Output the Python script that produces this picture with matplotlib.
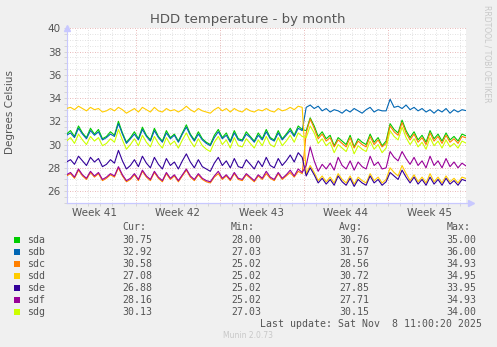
import matplotlib
matplotlib.use("Agg")
import matplotlib.pyplot as plt
import matplotlib.dates as mdates
from matplotlib.patches import Rectangle
import pandas as pd

W, H = 497, 347

# 8-hourly averages per drive, oldest first
sda = [30.9, 31.2, 30.7, 31.6, 31.0, 30.6, 31.4, 30.9, 31.3, 30.5,
       30.7, 31.1, 30.8, 32.0, 31.0, 30.2, 30.6, 31.1, 30.5, 31.5,
       30.8, 30.4, 31.4, 30.7, 30.3, 31.2, 30.6, 30.9, 30.3, 31.0,
       31.7, 30.9, 30.4, 31.1, 30.5, 30.2, 30.0, 30.8, 31.3, 30.6,
       31.0, 30.3, 31.2, 30.5, 30.4, 31.1, 30.7, 30.3, 31.0, 30.5,
       31.3, 30.6, 30.4, 31.2, 30.5, 30.9, 31.4, 30.8, 31.6, 31.3,
       31.2, 32.3, 31.6, 30.7, 31.1, 30.5, 30.8, 29.9, 30.6, 30.3,
       30.0, 30.8, 29.8, 30.5, 30.2, 30.0, 30.9, 30.2, 30.6, 29.9,
       30.3, 31.8, 31.3, 31.0, 32.1, 31.2, 30.6, 31.1, 30.4, 30.8,
       30.2, 31.2, 30.5, 30.9, 30.3, 31.0, 30.4, 30.7, 30.3, 30.9, 30.75]
sdb = [30.8, 31.0, 30.6, 31.4, 30.9, 30.5, 31.2, 30.8, 31.1, 30.4,
       30.6, 30.9, 30.7, 31.8, 30.9, 30.1, 30.5, 30.9, 30.4, 31.3,
       30.7, 30.3, 31.2, 30.6, 30.2, 31.0, 30.5, 30.8, 30.2, 30.9,
       31.5, 30.8, 30.3, 30.9, 30.4, 30.1, 29.9, 30.6, 31.1, 30.5,
       30.8, 30.2, 31.0, 30.4, 30.3, 30.9, 30.6, 30.2, 30.8, 30.4,
       31.1, 30.5, 30.3, 31.0, 30.4, 30.8, 31.2, 30.7, 31.4, 31.2,
       33.2, 33.4, 33.1, 33.3, 32.9, 33.1, 32.8, 33.0, 32.9, 32.7,
       33.0, 32.8, 33.1, 32.9, 32.7, 33.0, 33.2, 32.8, 33.0, 32.9,
       32.9, 33.9, 33.2, 33.3, 33.1, 33.4, 33.0, 33.2, 32.9, 33.1,
       32.8, 33.0, 32.7, 33.0, 32.8, 33.1, 32.7, 33.0, 32.8, 33.0, 32.92]
sdc = [27.3, 27.5, 27.1, 27.8, 27.3, 27.0, 27.6, 27.2, 27.5, 26.9,
       27.1, 27.4, 27.2, 28.0, 27.3, 26.8, 27.0, 27.4, 26.9, 27.7,
       27.2, 26.9, 27.6, 27.1, 26.8, 27.5, 27.0, 27.3, 26.8, 27.3,
       27.8, 27.2, 26.9, 27.4, 27.0, 26.8, 26.7, 27.2, 27.5, 27.0,
       27.3, 26.9, 27.5, 27.0, 26.9, 27.4, 27.1, 26.8, 27.3, 27.0,
       27.5, 27.1, 26.9, 27.5, 27.0, 27.3, 27.6, 27.2, 27.7, 27.5,
       31.0, 32.2, 31.4, 30.5, 30.9, 30.3, 30.6, 29.8, 30.4, 30.1,
       29.8, 30.6, 29.7, 30.3, 30.0, 29.8, 30.7, 30.0, 30.4, 29.8,
       30.1, 31.6, 31.1, 30.8, 31.9, 31.0, 30.4, 30.9, 30.2, 30.6,
       30.0, 31.0, 30.3, 30.7, 30.1, 30.8, 30.2, 30.5, 30.1, 30.7, 30.58]
sdd = [33.1, 33.2, 33.0, 33.3, 33.1, 32.9, 33.2, 33.0, 33.1, 32.8,
       32.9, 33.1, 32.9, 33.2, 33.0, 32.7, 32.9, 33.1, 32.8, 33.2,
       33.0, 32.8, 33.2, 32.9, 32.8, 33.1, 32.9, 33.0, 32.8, 33.0,
       33.3, 33.0, 32.8, 33.1, 32.9, 32.8, 32.7, 33.0, 33.2, 32.9,
       33.1, 32.8, 33.1, 32.9, 32.8, 33.1, 32.9, 32.8, 33.0, 32.9,
       33.1, 32.9, 32.8, 33.1, 32.9, 33.0, 33.2, 33.0, 33.3, 33.2,
       27.5, 28.2, 27.6, 26.9, 27.3, 26.8, 27.2, 26.7, 27.5, 27.0,
       26.7, 27.3, 26.6, 27.2, 26.9, 26.7, 27.5, 26.9, 27.2, 26.7,
       27.0, 28.0, 27.6, 27.3, 28.2, 27.5, 26.9, 27.4, 26.8, 27.2,
       26.7, 27.5, 26.8, 27.2, 26.7, 27.3, 26.8, 27.1, 26.7, 27.2, 27.08]
sde = [28.5, 28.7, 28.3, 29.0, 28.6, 28.2, 28.9, 28.5, 28.8, 28.1,
       28.3, 28.7, 28.4, 29.5, 28.6, 27.9, 28.2, 28.7, 28.1, 29.0,
       28.4, 28.0, 28.9, 28.3, 27.9, 28.8, 28.2, 28.5, 27.9, 28.6,
       29.2, 28.5, 28.0, 28.7, 28.1, 27.9, 27.7, 28.4, 28.9, 28.2,
       28.6, 28.0, 28.8, 28.1, 28.0, 28.7, 28.3, 27.9, 28.6, 28.1,
       28.9, 28.2, 28.0, 28.8, 28.2, 28.6, 29.1, 28.5, 29.3, 28.9,
       27.3, 28.0, 27.4, 26.7, 27.1, 26.6, 27.0, 26.5, 27.3, 26.8,
       26.5, 27.1, 26.4, 27.0, 26.7, 26.5, 27.3, 26.7, 27.0, 26.5,
       26.8, 27.6, 27.3, 27.0, 27.8, 27.2, 26.7, 27.2, 26.6, 27.0,
       26.5, 27.2, 26.6, 27.0, 26.5, 27.1, 26.6, 26.9, 26.5, 27.0, 26.88]
sdf = [27.4, 27.6, 27.2, 27.9, 27.4, 27.1, 27.7, 27.3, 27.6, 27.0,
       27.2, 27.5, 27.3, 28.1, 27.4, 26.9, 27.1, 27.5, 27.0, 27.8,
       27.3, 27.0, 27.7, 27.2, 26.9, 27.6, 27.1, 27.4, 26.9, 27.4,
       27.9, 27.3, 27.0, 27.5, 27.1, 26.9, 26.8, 27.3, 27.7, 27.1,
       27.4, 27.0, 27.6, 27.1, 27.0, 27.5, 27.2, 26.9, 27.4, 27.1,
       27.7, 27.2, 27.0, 27.6, 27.1, 27.4, 27.8, 27.3, 27.9, 27.6,
       28.2, 29.8, 28.6, 27.7, 28.3, 27.9, 28.4, 27.8, 28.9, 28.2,
       27.9, 28.6, 27.8, 28.5, 28.1, 27.9, 29.0, 28.2, 28.5, 27.9,
       28.0, 29.4, 28.9, 28.6, 29.4, 28.8, 28.3, 28.9, 28.2, 28.6,
       28.0, 29.0, 28.2, 28.6, 28.0, 28.8, 28.1, 28.5, 28.0, 28.4, 28.16]
sdg = [30.3, 30.6, 30.1, 30.9, 30.4, 30.0, 30.7, 30.3, 30.6, 29.9,
       30.1, 30.5, 30.2, 31.3, 30.4, 29.6, 30.0, 30.5, 29.9, 30.8,
       30.2, 29.8, 30.7, 30.1, 29.7, 30.6, 30.0, 30.3, 29.7, 30.4,
       31.0, 30.3, 29.8, 30.5, 29.9, 29.6, 29.4, 30.2, 30.7, 30.0,
       30.4, 29.7, 30.6, 29.9, 29.8, 30.5, 30.1, 29.7, 30.4, 29.9,
       30.7, 30.0, 29.8, 30.6, 29.9, 30.3, 30.8, 30.2, 31.0, 30.7,
       30.6, 31.6, 31.0, 30.1, 30.5, 29.9, 30.2, 29.3, 30.0, 29.7,
       29.4, 30.2, 29.2, 29.9, 29.6, 29.4, 30.3, 29.6, 30.0, 29.3,
       29.7, 31.2, 30.7, 30.4, 31.5, 30.6, 30.0, 30.5, 29.8, 30.2,
       29.6, 30.6, 29.9, 30.3, 29.7, 30.4, 29.8, 30.1, 29.7, 30.3, 30.13]

names = ["sda", "sdb", "sdc", "sdd", "sde", "sdf", "sdg"]
series = [sda, sdb, sdc, sdd, sde, sdf, sdg]
colors = ["#00CC00", "#0066B3", "#FF8000", "#FFCC00", "#330099", "#990099", "#CCFF00"]
mins = ["28.00", "27.03", "25.02", "25.02", "25.02", "25.02", "27.03"]
avgs = ["30.76", "31.57", "28.56", "30.72", "27.85", "27.71", "30.15"]
maxs = ["35.00", "36.00", "34.93", "34.95", "33.95", "34.93", "34.00"]

times = pd.date_range("2025-10-07 04:48", periods=len(sda), freq="8h")
week_starts = pd.date_range("2025-10-13", "2025-11-03", freq="7D")
week_mids = pd.date_range("2025-10-09 12:00", periods=5, freq="7D")
days = pd.date_range("2025-10-08", "2025-11-09", freq="D")

BG = "#F0F0F0"
TXT = "#555555"
AXC = "#C8C8FF"

fig = plt.figure(figsize=(W / 100, H / 100), dpi=100, facecolor=BG)
left, right, top, bottom = 66.5, 466, 28.3, 202.7
ax = fig.add_axes([left / W, 1 - bottom / H, (right - left) / W, (bottom - top) / H])
ax.set_facecolor("white")

x0, x1 = mdates.date2num(times[0]), mdates.date2num(times[-1])
ax.set_xlim(x0, x1)
ax.set_ylim(25, 40)

# grid: minor grey dots, major red dots
for v in [25 + 0.5 * k for k in range(31)]:
    major = v % 2 == 0
    ax.axhline(v, color="#E0A0A0" if major else "#D8D8D8", lw=0.6,
               ls=(0, (1, 2)), zorder=1)
for d in days:
    major = d in week_starts
    ax.axvline(mdates.date2num(d), color="#E0A0A0" if major else "#D8D8D8",
               lw=0.6, ls=(0, (1, 2)), zorder=1)

for s, c in zip(series, colors):
    ax.plot(times, s, color=c, lw=0.8, zorder=3)

for sp in ["top", "right"]:
    ax.spines[sp].set_visible(False)
for sp in ["left", "bottom"]:
    ax.spines[sp].set_color(AXC)
    ax.spines[sp].set_linewidth(0.8)

# axis arrows
ax.plot([0], [1.0], marker="^", ms=4, color=AXC, transform=ax.transAxes,
        clip_on=False, zorder=5)
ax.plot([1.012], [0], marker=">", ms=4, color=AXC, transform=ax.transAxes,
        clip_on=False, zorder=5)
ax.plot([0, 1.01], [0, 0], color=AXC, lw=0.8, transform=ax.transAxes, clip_on=False)

ax.set_yticks(range(26, 41, 2))
ax.set_yticks([25 + 0.5 * k for k in range(31)], minor=True)
ax.tick_params(axis="y", which="both", length=2, width=0.6, color="#D0D0D0",
               labelsize=7.5, labelcolor=TXT, pad=2)
ax.set_xticks(mdates.date2num(week_mids))
ax.set_xticklabels([f"Week {d.isocalendar()[1]}" for d in week_mids])
ax.set_xticks(mdates.date2num(days), minor=True)
ax.tick_params(axis="x", which="major", length=0, labelsize=7.5,
               labelcolor=TXT, pad=4)
ax.tick_params(axis="x", which="minor", length=2, width=0.6, color="#D0D0D0")

fig.text(248 / W, 1 - 19 / H, "HDD temperature - by month", ha="center",
         va="center", fontsize=9.5, color=TXT)
fig.text(10 / W, 1 - 112 / H, "Degrees Celsius", rotation=90, ha="center",
         va="center", fontsize=7.5, color=TXT)
fig.text(487 / W, 1 - 5 / H, "RRDTOOL / TOBI OETIKER", rotation=270,
         ha="center", va="top", fontsize=5.5, color="#C8C8C8")

# legend table
mono = dict(family="DejaVu Sans Mono", fontsize=7.1, color=TXT, va="center")
cols = [122.7, 231, 339.3, 446.7]
for x, h in zip(cols, ["Cur:", "Min:", "Avg:", "Max:"]):
    fig.text(x / W, 1 - 227.3 / H, h, **mono)
for i, (n, s, c) in enumerate(zip(names, series, colors)):
    y = 240 + 11.95 * i
    fig.add_artist(Rectangle((14 / W, 1 - (y + 3) / H), 6 / W, 6 / H,
                             facecolor=c, edgecolor="none",
                             transform=fig.transFigure))
    fig.text(26.7 / W, 1 - y / H, n, **mono)
    vals = [f"{s[-1]:.2f}", mins[i], avgs[i], maxs[i]]
    for x, v in zip(cols, vals):
        fig.text(x / W, 1 - y / H, v, **mono)
fig.text(482.3 / W, 1 - 323.7 / H, "Last update: Sat Nov  8 11:00:20 2025",
         ha="right", **{k: v for k, v in mono.items() if k != "va"}, va="center")
fig.text(248 / W, 1 - 336 / H, "Munin 2.0.73", ha="center", va="center",
         fontsize=5.5, color="#C8C8C8")

fig.savefig("out.png", dpi=100, facecolor=BG)
